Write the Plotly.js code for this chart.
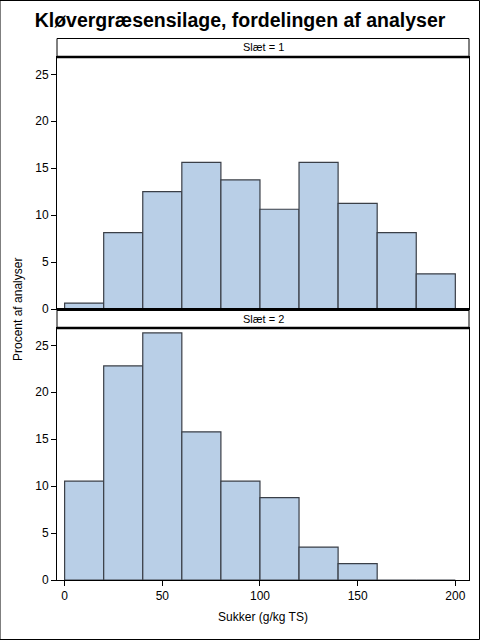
<!DOCTYPE html>
<html>
<head>
<meta charset="utf-8">
<script src="https://cdn.plot.ly/plotly-3.0.1.min.js"></script>
<style>
html,body{margin:0;padding:0;background:#fff;}
#chart{width:480px;height:640px;}
</style>
</head>
<body>
<div id="chart"></div>
<script>
const binMids = [10, 30, 50, 70, 90, 110, 130, 150, 170, 190];
const slaet1 = [0.63, 8.13, 12.5, 15.63, 13.75, 10.63, 15.63, 11.25, 8.13, 3.75];
const slaet2 = [10.53, 22.81, 26.32, 15.79, 10.53, 8.77, 3.51, 1.75, 0, 0];
const xTicks = [0, 50, 100, 150, 200];
const yTicks = [0, 5, 10, 15, 20, 25];
const panelLabels = ['Slæt = 1', 'Slæt = 2'];

const fill = '#B9CFE7';
const edge = '#3a3f47';
const font = 'Liberation Sans, Arial, sans-serif';

const traces = [
  {type:'bar', x:binMids, y:slaet1, width:20, xaxis:'x', yaxis:'y',
   marker:{color:fill, line:{color:edge, width:1.2}}, hoverinfo:'x+y'},
  {type:'bar', x:binMids, y:slaet2, width:20, xaxis:'x2', yaxis:'y2',
   marker:{color:fill, line:{color:edge, width:1.2}}, hoverinfo:'x+y'}
];

// pixel layout: plot area y 57..580, x 57..469
const H = 523;
const p = py => (580 - py) / H;

const yCommon = {range:[0, 26.85], tickvals:yTicks, ticks:'outside', ticklen:5, tickcolor:'#000',
  showline:true, linecolor:'#000', linewidth:1, mirror:true, showgrid:false, zeroline:false,
  tickfont:{family:font, size:12, color:'#000'}};
const xCommon = {range:[-3.9, 207], tickvals:xTicks, ticks:'outside', ticklen:5, tickcolor:'#000',
  showline:true, linecolor:'#000', linewidth:1, mirror:true, showgrid:false, zeroline:false,
  tickfont:{family:font, size:12, color:'#000'}};

const layout = {
  width:480, height:640,
  margin:{l:57, r:11, t:57, b:60},
  paper_bgcolor:'#fff', plot_bgcolor:'#fff',
  showlegend:false, bargap:0,
  font:{family:font, color:'#000'},
  title:{text:'<b>Kløvergræsensilage, fordelingen af analyser</b>', x:0.5, xref:'container', xanchor:'center',
    y:1 - 20/640, yref:'container', yanchor:'middle', font:{family:font, size:19.5, color:'#000'}},
  xaxis:Object.assign({}, xCommon, {anchor:'y', domain:[0,1], showticklabels:false, ticks:''}),
  yaxis:Object.assign({}, yCommon, {anchor:'x', domain:[p(309), 1]}),
  xaxis2:Object.assign({}, xCommon, {anchor:'y2', domain:[0,1],
    title:{text:'Sukker (g/kg TS)', font:{family:font, size:12, color:'#000'}, standoff:10}}),
  yaxis2:Object.assign({}, yCommon, {anchor:'x2', domain:[0, p(328)]}),
  shapes:[
    // outer frame
    {type:'rect', xref:'paper', yref:'paper', x0:-57/412, x1:1+10.5/412, y0:-59.5/H, y1:1+56.5/H, line:{color:'#000', width:1}},
    // header 1
    {type:'rect', xref:'paper', yref:'paper', x0:0, x1:1, y0:1, y1:p(38.5), line:{color:'#000', width:1}, fillcolor:'#fff'},
    {type:'line', xref:'paper', yref:'paper', x0:0, x1:1, y0:1, y1:1, line:{color:'#000', width:2.5}},
    // header 2
    {type:'rect', xref:'paper', yref:'paper', x0:0, x1:1, y0:p(328), y1:p(310), line:{color:'#000', width:1}, fillcolor:'#fff'},
    {type:'line', xref:'paper', yref:'paper', x0:0, x1:1, y0:p(328), y1:p(328), line:{color:'#000', width:2.5}},
    {type:'line', xref:'paper', yref:'paper', x0:0, x1:1, y0:p(309.5), y1:p(309.5), line:{color:'#000', width:3}}
  ],
  annotations:[
    {text:panelLabels[0], xref:'paper', yref:'paper', x:0.5, y:p(47.5), xanchor:'center', yanchor:'middle',
     showarrow:false, font:{family:font, size:11, color:'#000'}},
    {text:panelLabels[1], xref:'paper', yref:'paper', x:0.5, y:p(319), xanchor:'center', yanchor:'middle',
     showarrow:false, font:{family:font, size:11, color:'#000'}},
    {text:'Procent af analyser', xref:'paper', yref:'paper', x:-39/412, y:p(310), xanchor:'center', yanchor:'middle',
     textangle:-90, showarrow:false, font:{family:font, size:12, color:'#000'}}
  ]
};

Plotly.newPlot('chart', traces, layout, {displayModeBar:false, staticPlot:true});
</script>
</body>
</html>
